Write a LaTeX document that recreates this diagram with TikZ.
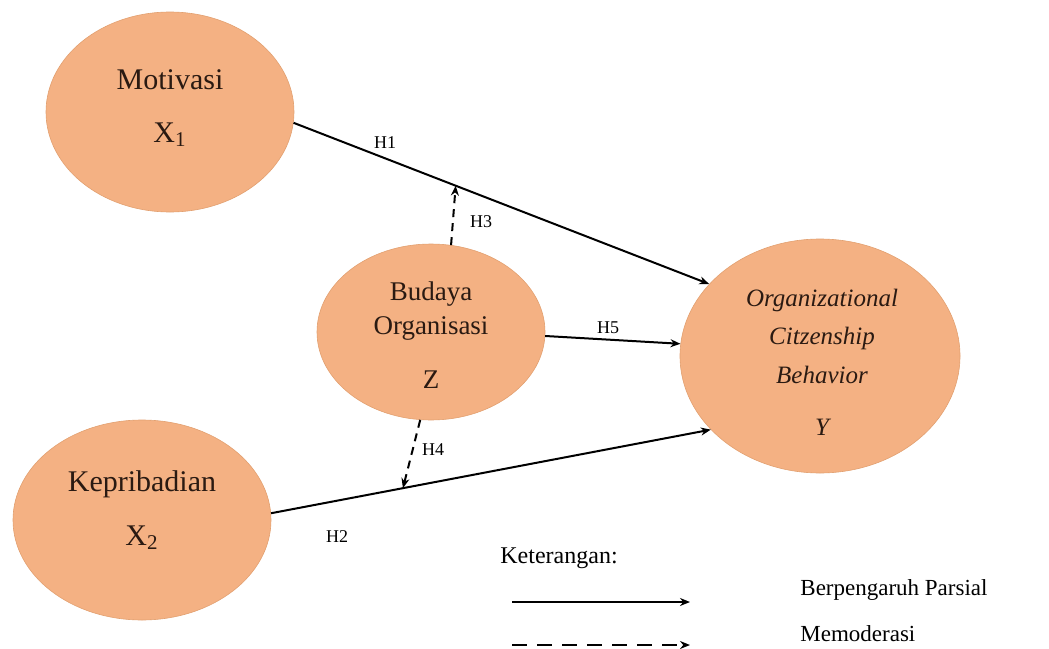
\documentclass[tikz,border=0pt]{standalone}
\usepackage{fontspec}
\setmainfont{Liberation Serif}
\usetikzlibrary{shapes.geometric,arrows.meta}
\definecolor{peach}{HTML}{F4B183}
\definecolor{peachedge}{HTML}{E2A070}
\definecolor{inktxt}{HTML}{2A1A12}
\begin{document}
\begin{tikzpicture}[x=0.5pt,y=-0.5pt,
  var/.style={ellipse,fill=peach,draw=peachedge,line width=0.3pt,inner sep=0pt},
  vtext/.style={text=inktxt,font=\fontsize{15}{18}\selectfont,inner sep=0pt},
  hlab/.style={font=\fontsize{9}{11}\selectfont,inner sep=0pt},
  conn/.style={line width=1pt,-{Stealth[length=5pt,width=4pt]}},
  mod/.style={line width=1pt,dash pattern=on 4pt off 3pt,-{Stealth[length=5pt,width=4pt]}},
  legtxt/.style={font=\fontsize{11.5}{14}\selectfont,anchor=west,inner sep=0pt}]
\useasboundingbox (0,0) rectangle (1049,648);
% variables
\node[var,minimum width=124pt,minimum height=100pt] (mot) at (170,112) {};
\node[var,minimum width=129pt,minimum height=100pt] (kep) at (142,520) {};
\node[var,minimum width=114pt,minimum height=88pt] (bud) at (431,332) {};
\node[var,minimum width=140pt,minimum height=117pt] (ocb) at (820,356) {};
% texts
\node[vtext] (motT) at (170,80) {Motivasi};
\node[vtext] (motX) at (170,135) {X\textsubscript{1}};
\node[vtext] (kepT) at (142,484) {Kepribadian};
\node[vtext] (kepX) at (142,538) {X\textsubscript{2}};
\node[vtext,font=\fontsize{13.5}{16}\selectfont] (budT1) at (431,294) {Budaya};
\node[vtext,font=\fontsize{13.5}{16}\selectfont] (budT2) at (431,328) {Organisasi};
\node[vtext,font=\fontsize{13.5}{16}\selectfont] (budZ) at (431,380) {Z};
\node[vtext,font=\fontsize{12.5}{15}\selectfont\itshape] (ocbT1) at (822,300) {Organizational};
\node[vtext,font=\fontsize{12.5}{15}\selectfont\itshape] (ocbT2) at (822,338) {Citzenship};
\node[vtext,font=\fontsize{12.5}{15}\selectfont\itshape] (ocbT3) at (822,375) {Behavior};
\node[vtext,font=\fontsize{12.5}{15}\selectfont\itshape] (ocbY) at (822,427) {Y};
% connectors
\draw[conn] (mot.-5) -- coordinate[pos=0.39] (h1mid) (ocb.147);
\draw[conn] (kep.3) -- coordinate[pos=0.30] (h2mid) (ocb.214);
\draw[conn] (bud.-2.5) -- (ocb.175.5);
\draw[mod] (bud.77) -- (h1mid);
\draw[mod] (bud.263) -- (h2mid);
% labels
\node[hlab] (lh1) at (385,143) {H1};
\node[hlab] (lh2) at (337,537) {H2};
\node[hlab] (lh3) at (481,222) {H3};
\node[hlab] (lh4) at (433,450) {H4};
\node[hlab] (lh5) at (608,328) {H5};
% legend
\node[legtxt,font=\fontsize{12}{14}\selectfont] (ket) at (500,558) {Keterangan:};
\coordinate (ls1) at (512,602);
\coordinate (ls2) at (690,602);
\coordinate (ld1) at (512,645);
\coordinate (ld2) at (690,645);
\draw[line width=1pt,-{Stealth[length=5pt,width=4pt]}] (ls1) -- (ls2);
\draw[line width=1pt,dash pattern=on 7.5pt off 5pt,-{Stealth[length=5pt,width=4pt]}] (ld1) -- (ld2);
\node[legtxt] (lbp) at (800,590) {Berpengaruh Parsial};
\node[legtxt] (lmd) at (800,634) {Memoderasi};
\end{tikzpicture}
\end{document}
